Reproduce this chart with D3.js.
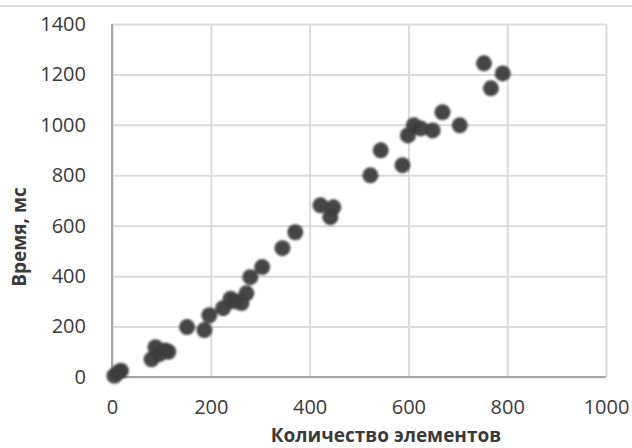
<!DOCTYPE html>
<html><head><meta charset="utf-8">
<script src="https://cdn.jsdelivr.net/npm/d3@7"></script>
<style>body{margin:0;background:#fff;}svg{display:block;}</style>
</head><body><svg id="c" width="632" height="448"></svg>
<script>
const xValues = [5, 14, 18, 80, 88, 95, 108, 114, 152, 187, 197, 225, 240, 248, 262, 272, 280, 304, 345, 371, 422, 442, 448, 523, 544, 588, 599, 611, 625, 649, 669, 704, 753, 767, 791];
const yValues = [5, 20, 25, 70, 118, 90, 105, 100, 198, 186, 245, 273, 310, 300, 293, 332, 396, 436, 511, 574, 681, 634, 673, 800, 899, 840, 958, 998, 986, 978, 1050, 998, 1244, 1145, 1204];
const xTicks = [0, 200, 400, 600, 800, 1000];
const yTicks = [0, 200, 400, 600, 800, 1000, 1200, 1400];
const xTitle = "Количество элементов";
const yTitle = "Время, мс";

const svg = d3.select("#c");
const L = 112, R = 606, T = 24, B = 377;
const x = d3.scaleLinear().domain([0, 1000]).range([L, R]);
const y = d3.scaleLinear().domain([0, 1400]).range([B, T]);
const font = "'Open Sans', sans-serif";

svg.append("line").attr("x1", 0).attr("x2", 632).attr("y1", 6).attr("y2", 6)
  .attr("stroke", "#dcdcdc").attr("stroke-width", 2);

const defs = svg.append("defs");
defs.append("filter").attr("id", "soft").attr("x", "-50%").attr("y", "-50%").attr("width", "200%").attr("height", "200%")
  .append("feGaussianBlur").attr("stdDeviation", 0.9);

const gx = svg.append("g").attr("transform", `translate(0,${B})`)
  .call(d3.axisBottom(x).tickValues(xTicks).tickFormat(d3.format("d")).tickSize(-(B - T)).tickPadding(23));
const gy = svg.append("g").attr("transform", `translate(${L},0)`)
  .call(d3.axisLeft(y).tickValues(yTicks).tickFormat(d3.format("d")).tickSize(-(R - L)).tickPadding(26));
[gx, gy].forEach(g => {
  g.select(".domain").remove();
  g.selectAll(".tick line").attr("stroke", "#dadada").attr("stroke-width", 2);
  g.selectAll(".tick text").attr("fill", "#3a3a3a").style("font-family", font).style("font-size", "20px");
});
// axis lines
svg.append("line").attr("x1", L).attr("x2", R).attr("y1", B).attr("y2", B).attr("stroke", "#a6a6a6").attr("stroke-width", 2);
svg.append("line").attr("x1", L).attr("x2", L).attr("y1", T).attr("y2", B).attr("stroke", "#a6a6a6").attr("stroke-width", 2);

const data = xValues.map((v, i) => ({x: v, y: yValues[i]}));
svg.append("g").attr("filter", "url(#soft)").selectAll("circle").data(data).join("circle")
  .attr("cx", d => x(d.x)).attr("cy", d => y(d.y)).attr("r", 8)
  .attr("fill", "#3c3c3c").attr("opacity", 0.95);

svg.append("text").attr("x", 386).attr("y", 442).attr("text-anchor", "middle")
  .style("font-family", font).style("font-size", "19px").style("font-weight", "bold").attr("fill", "#3a3a3a").text(xTitle);
svg.append("text").attr("transform", `translate(26,237) rotate(-90)`).attr("text-anchor", "middle")
  .style("font-family", font).style("font-size", "19px").style("font-weight", "bold").attr("fill", "#3a3a3a").text(yTitle);
</script></body></html>
